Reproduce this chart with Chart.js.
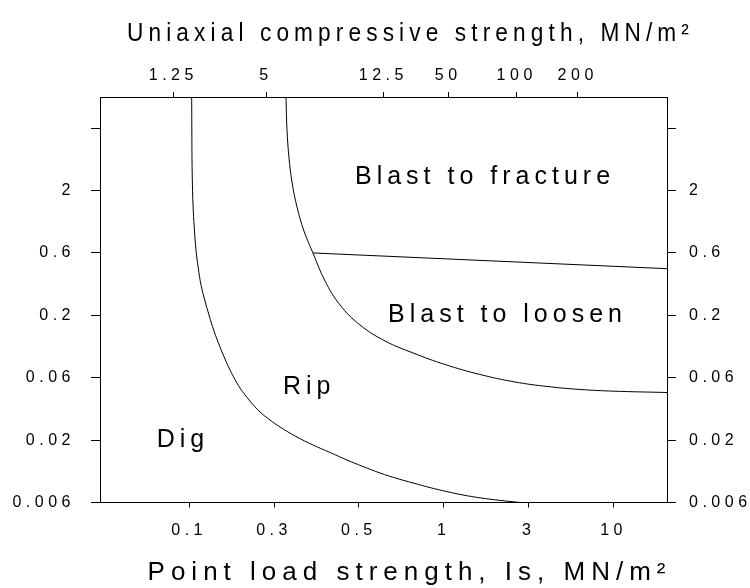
<!DOCTYPE html>
<html>
<head>
<meta charset="utf-8">
<script src="https://cdn.jsdelivr.net/npm/chart.js@4/dist/chart.umd.min.js"></script>
<style>
html,body{margin:0;padding:0;background:#fff;}
#wrap{width:750px;height:588px;}
</style>
</head>
<body>
<div id="wrap"><canvas id="c" width="750" height="588"></canvas></div>
<script>
// ---- data (axis index units: bottom ticks 0.1..10 -> 1..6, left ticks 0.006..2 -> 0..5) ----
const yTickValues = [0, 1, 2, 3, 4, 5, 6];
const yTickLabels = ['0.006', '0.02', '0.06', '0.2', '0.6', '2', ''];
const xTickValues = [1, 2, 3, 4, 5, 6];
const xTickLabels = ['0.1', '0.3', '0.5', '1', '3', '10'];
const topTickValues = [0.814, 1.906, 3.288, 4.053, 4.859, 5.578];
const topTickLabels = ['1.25', '5', '12.5', '50', '100', '200'];

// Dig / Rip boundary
const digRipX = [1.030, 1.032, 1.034, 1.039, 1.046, 1.061, 1.081, 1.108, 1.140, 1.184, 1.234, 1.293, 1.364, 1.423, 1.482, 1.540, 1.599, 1.717, 1.835, 1.953, 2.071, 2.259, 2.459, 2.660, 2.860, 3.048, 3.249, 3.449, 3.638, 3.838, 4.038, 4.227, 4.427, 4.663, 4.898];
const digRipY = [6.500, 5.972, 5.491, 5.090, 4.769, 4.400, 4.048, 3.759, 3.487, 3.246, 3.006, 2.749, 2.493, 2.300, 2.124, 1.972, 1.836, 1.627, 1.451, 1.323, 1.210, 1.058, 0.922, 0.802, 0.681, 0.577, 0.473, 0.385, 0.313, 0.239, 0.175, 0.120, 0.075, 0.034, 0.0];

// Rip / Blast boundary
const ripBlastX = [2.141, 2.153, 2.177, 2.212, 2.271, 2.353, 2.459, 2.601, 2.778, 3.013, 3.308, 3.638, 4.015, 4.427, 4.839, 5.216, 5.605, 5.994, 6.630];
const ripBlastY = [6.5, 5.972, 5.523, 5.138, 4.737, 4.352, 4.000, 3.551, 3.166, 2.846, 2.589, 2.397, 2.212, 2.052, 1.932, 1.860, 1.812, 1.785, 1.763];

// Blast to fracture / Blast to loosen boundary
const fractureLooseX = [2.459, 6.630];
const fractureLooseY = [4.000, 3.748];

const regionNames = ['Blast to fracture', 'Blast to loosen', 'Rip', 'Dig'];
const regionX = [2.954, 3.343, 2.106, 0.618];
const regionY = [5.210, 3.006, 1.856, 1.002];

const topTitle = 'Uniaxial compressive strength, MN/m\u00B2';
const bottomTitle = 'Point load strength, Is, MN/m\u00B2';

// ---- rendering ----
const FONT = '"Liberation Sans", Arial, sans-serif';
Chart.defaults.font.family = FONT;
Chart.defaults.color = '#000';

const toPts = (xs, ys) => xs.map((x, i) => ({x: x, y: ys[i]}));

const SPACING = '4.5px';
const titleShift = {x: 26, x2: 27};
const titleSpacing = {x: '6px', x2: '5.85px'};
const textPlugin = {
  id: 'textStyle',
  beforeLayout(chart) { chart.ctx.letterSpacing = SPACING; },
  beforeDraw(chart) {
    const ctx = chart.ctx;
    ctx.letterSpacing = SPACING;
    for (const s of Object.values(chart.scales)) {
      if (s._titlePatched) continue;
      const orig = s.drawTitle;
      s.drawTitle = function (...args) {
        ctx.save();
        ctx.font = Chart.helpers.toFont(this.options.title.font).string;
        ctx.letterSpacing = titleSpacing[this.id] || SPACING;
        ctx.translate(titleShift[this.id] || 0, 0);
        orig.apply(this, args);
        ctx.restore();
      };
      s._titlePatched = true;
    }
  },
  afterDatasetsDraw(chart) {
    const ctx = chart.ctx;
    const xs = chart.scales.x, ys = chart.scales.y;
    ctx.save();
    ctx.font = '25px ' + FONT;
    ctx.letterSpacing = '5px';
    ctx.fillStyle = '#000';
    ctx.textAlign = 'left';
    ctx.textBaseline = 'middle';
    regionNames.forEach((n, i) => {
      ctx.fillText(n, xs.getPixelForValue(regionX[i]), ys.getPixelForValue(regionY[i]));
    });
    ctx.restore();
  }
};

const lineDs = (pts) => ({
  data: pts, showLine: true, pointRadius: 0, borderColor: '#000', borderWidth: 1,
  fill: false, tension: 0.4, xAxisID: 'x', yAxisID: 'y'
});

const axisBase = {
  type: 'linear',
  grid: {drawOnChartArea: false, drawTicks: true, color: '#000', lineWidth: 1},
  border: {display: true, color: '#000', width: 1}
};

new Chart(document.getElementById('c'), {
  type: 'scatter',
  data: {
    datasets: [
      lineDs(toPts(digRipX, digRipY)),
      lineDs(toPts(ripBlastX, ripBlastY)),
      Object.assign(lineDs(toPts(fractureLooseX, fractureLooseY)), {tension: 0})
    ]
  },
  options: {
    responsive: false,
    animation: false,
    devicePixelRatio: 1,
    layout: {padding: 0},
    plugins: {legend: {display: false}, tooltip: {enabled: false}},
    scales: {
      x: Object.assign({}, axisBase, {
        position: 'bottom', min: -0.05, max: 6.63,
        grid: Object.assign({}, axisBase.grid, {tickLength: 5}),
        afterBuildTicks: s => { s.ticks = xTickValues.map(v => ({value: v})); },
        ticks: {font: {size: 16}, padding: 13, maxRotation: 0, autoSkip: false,
                callback: (v, i) => xTickLabels[i]},
        title: {display: true, text: bottomTitle, font: {size: 26}, padding: {top: 0, bottom: 0}},
        afterFit: s => { s.height = 85.5; }
      }),
      x2: Object.assign({}, axisBase, {
        position: 'top', min: -0.05, max: 6.63,
        grid: Object.assign({}, axisBase.grid, {tickLength: 5}),
        afterBuildTicks: s => { s.ticks = topTickValues.map(v => ({value: v})); },
        ticks: {font: {size: 16}, padding: 7, maxRotation: 0, autoSkip: false,
                callback: (v, i) => topTickLabels[i]},
        title: {display: true, text: topTitle, font: {size: 26}, padding: {top: 18, bottom: 0}},
        afterFit: s => { s.height = 97; }
      }),
      y: Object.assign({}, axisBase, {
        position: 'left', min: 0, max: 6.5,
        grid: Object.assign({}, axisBase.grid, {tickLength: 9}),
        afterBuildTicks: s => { s.ticks = yTickValues.map(v => ({value: v})); },
        ticks: {font: {size: 16}, padding: 16, autoSkip: false,
                callback: (v, i) => yTickLabels[i]},
        afterFit: s => { s.width = 100; }
      }),
      y2: Object.assign({}, axisBase, {
        position: 'right', min: 0, max: 6.5,
        grid: Object.assign({}, axisBase.grid, {tickLength: 9}),
        afterBuildTicks: s => { s.ticks = yTickValues.map(v => ({value: v})); },
        ticks: {font: {size: 16}, padding: 13, autoSkip: false,
                callback: (v, i) => yTickLabels[i]},
        afterFit: s => { s.width = 83; }
      })
    }
  },
  plugins: [textPlugin]
});
</script>
</body>
</html>
